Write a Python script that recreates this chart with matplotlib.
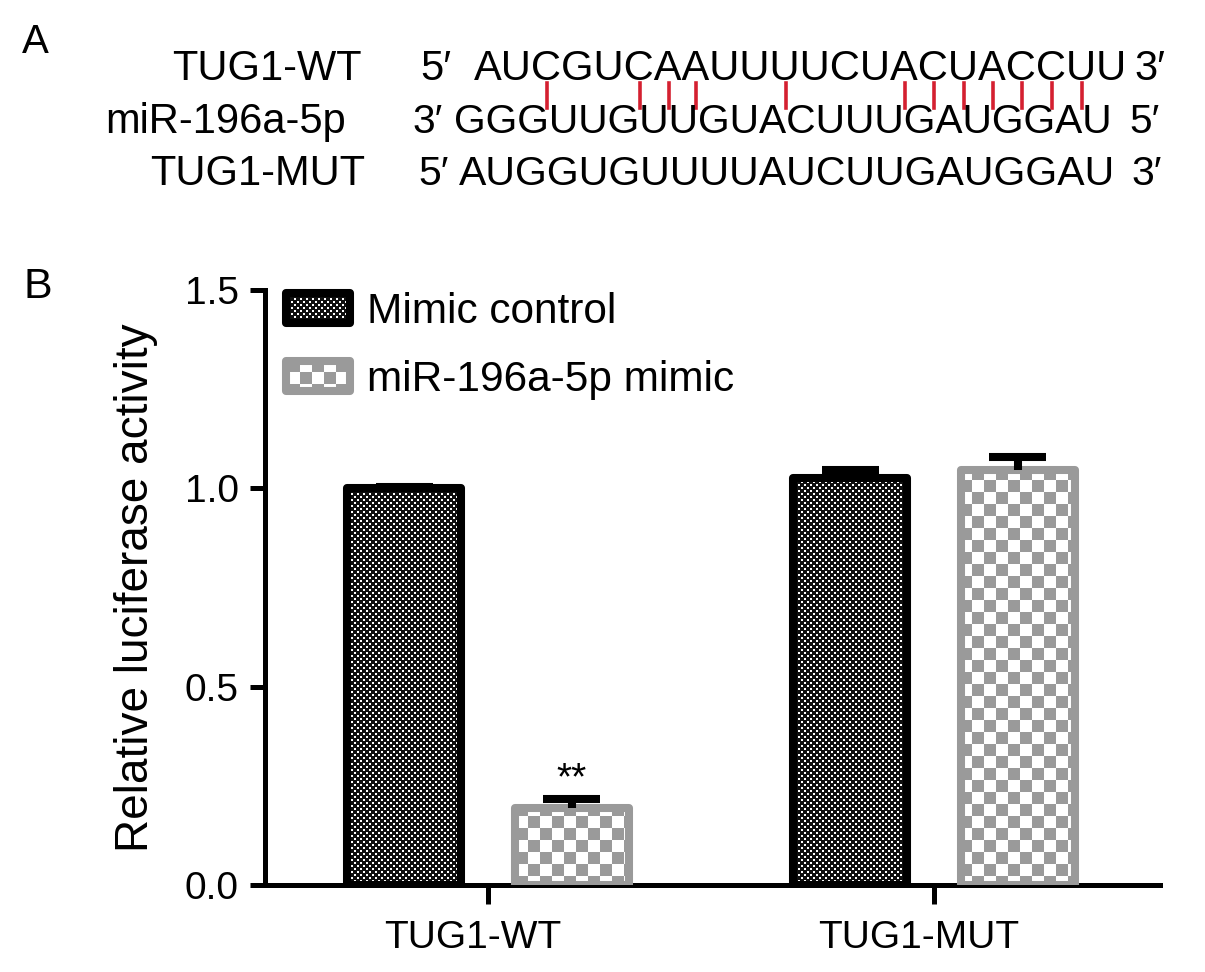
import numpy as np
import matplotlib
matplotlib.use("Agg")
import matplotlib.pyplot as plt
from matplotlib.lines import Line2D
from matplotlib.transforms import ScaledTranslation

plt.rcParams['font.family'] = ['Liberation Sans', 'DejaVu Sans']

# ---------------- data ----------------
groups = ['TUG1-WT', 'TUG1-MUT']
series = ['Mimic control', 'miR-196a-5p mimic']
control_mean = [1.00, 1.025]
control_err = [0.004, 0.02]
mimic_mean = [0.195, 1.045]
mimic_err = [0.022, 0.035]
significance = ['**', '']
yticks = [0.0, 0.5, 1.0, 1.5]
ytick_labels = ['0.0', '0.5', '1.0', '1.5']

row_labels = ['TUG1-WT', 'miR-196a-5p', 'TUG1-MUT']
row_seqs = ['AUCGUCAAUUUUCUACUACCUU',
            'GGGUUGUUGUACUUUGAUGGAU',
            'AUGGUGUUUUAUCUUGAUGGAU']
row_ends = [('5′', '3′'), ('3′', '5′'), ('5′', '3′')]
wc_pairs = {('A', 'U'), ('U', 'A'), ('G', 'C'), ('C', 'G')}

# ---------------- figure ----------------
W, H = 1205, 972
fig = plt.figure(figsize=(W / 100, H / 100), dpi=100)


def fx(px):
    return px / W


def fy(py):
    return 1 - py / H


ax_l, ax_r, ax_t, ax_b = 265, 1160, 290, 885
ax = fig.add_axes([fx(ax_l), fy(ax_b), fx(ax_r - ax_l), (ax_b - ax_t) / H])
ax.set_zorder(2)
ax.patch.set_visible(False)

x = np.arange(len(groups))
off = 0.188
width = 0.256
lw = 5.8
grey = '#9a9a9a'

b1 = ax.bar(x - off, control_mean, width, facecolor='none', edgecolor='black',
            linewidth=lw, zorder=3, label=series[0])
b2 = ax.bar(x + off, mimic_mean, width, facecolor='none', edgecolor=grey,
            linewidth=lw, zorder=3, label=series[1])
for p in list(b1.patches) + list(b2.patches):
    p.set_joinstyle('round')

cap = 0.064
for xs, m, e in [(x - off, control_mean, control_err), (x + off, mimic_mean, mimic_err)]:
    m = np.asarray(m)
    e = np.asarray(e)
    ax.vlines(xs, m, m + e, colors='black', linewidth=lw, zorder=4)
    ax.hlines(m + e, xs - cap, xs + cap, colors='black', linewidth=lw, zorder=4)

for xi, m, e, s in zip(x + off, mimic_mean, mimic_err, significance):
    if s:
        ax.text(xi, m + e + 0.004, s, ha='center', va='bottom', fontsize=28)

ax.set_xlim(-0.5, 1.507)
ax.set_ylim(0, 1.5)
ax.set_yticks(yticks)
ax.set_yticklabels(ytick_labels)
ax.set_xticks(x)
ax.set_xticklabels(groups)
for s in ['top', 'right']:
    ax.spines[s].set_visible(False)
for s in ['left', 'bottom']:
    ax.spines[s].set_linewidth(3.6)
ax.tick_params(axis='y', length=11, width=3.6, pad=8, labelsize=28)
ax.tick_params(axis='x', length=14, width=3.6, pad=11.5, labelsize=28)
shift = ScaledTranslation(-15 / 100, 0, fig.dpi_scale_trans)
for lab in ax.get_xticklabels():
    lab.set_transform(lab.get_transform() + shift)
ax.set_ylabel('Relative luciferase activity', fontsize=33)
ax.yaxis.set_label_coords((158 - ax_l) / (ax_r - ax_l), 0.5)

leg = ax.legend(loc='upper left', bbox_to_anchor=((286 - ax_l) / (ax_r - ax_l), (ax_b - 292) / (ax_b - ax_t)),
                frameon=False, fontsize=30.5, handlelength=1.5, handleheight=0.7,
                handletextpad=0.42, labelspacing=0.66, borderpad=0, borderaxespad=0)
for h in leg.legend_handles:
    h.set_joinstyle('round')

# ---------------- panel A ----------------
fs_a = 30
seq_sizes = [30, 29.3, 29.5]
fig.text(fx(22), fy(53), 'A', fontsize=29, va='baseline', ha='left')
fig.text(fx(23), fy(298), 'B', fontsize=31, va='baseline', ha='left')

label_right = [362, 346, 365]
end_left = [420, 412, 418]
seq_left = [474, 454, 459]
end_right = [1165, 1160, 1162]
baselines = [80, 133, 185]
seq_texts = []
for lab, lr, el, sl, er, bl, seq, (e1, e2), fs in zip(row_labels, label_right, end_left, seq_left,
                                                      end_right, baselines, row_seqs, row_ends, seq_sizes):
    fig.text(fx(lr), fy(bl), lab, fontsize=fs_a, ha='right', va='baseline')
    fig.text(fx(el), fy(bl), e1, fontsize=fs, ha='left', va='baseline')
    fig.text(fx(er), fy(bl), e2, fontsize=fs, ha='right', va='baseline')
    t = fig.text(fx(sl), fy(bl), seq, fontsize=fs, ha='left', va='baseline')
    seq_texts.append(t)

fig.canvas.draw()
renderer = fig.canvas.get_renderer()


def text_width(s, fs):
    tmp = fig.text(0, 0, s, fontsize=fs)
    w = tmp.get_window_extent(renderer).width
    tmp.remove()
    return w


# letter centres of the top (TUG1-WT) row, pairing lines at Watson-Crick pairs
top_seq = row_seqs[0]
mir_seq = row_seqs[1]
fs0 = seq_sizes[0]
x0 = seq_texts[0].get_window_extent(renderer).x0
for i, (a, b) in enumerate(zip(top_seq, mir_seq)):
    if (a, b) in wc_pairs:
        cx = x0 + text_width(top_seq[:i + 1], fs0) - text_width(top_seq[i], fs0) / 2
        fig.add_artist(Line2D([fx(cx), fx(cx)], [fy(83), fy(108)], color='#d42030',
                              linewidth=2.6, transform=fig.transFigure))

# ---------------- checker fills ----------------
yy, xx = np.mgrid[0:H, 0:W]
dots = (((xx % 6) // 3 == (yy % 6) // 3) & (xx % 3 < 2) & (yy % 3 < 2))
black_pat = np.full((H, W, 3), 15, dtype=np.uint8)
black_pat[dots] = 255
chk = ((xx // 12 + yy // 12) % 2 == 0)
grey_pat = np.full((H, W, 3), 255, dtype=np.uint8)
grey_pat[chk] = 154

fig.canvas.draw()
targets = [(p, black_pat) for p in b1.patches] + [(p, grey_pat) for p in b2.patches]
targets += [(leg.legend_handles[0], black_pat), (leg.legend_handles[1], grey_pat)]
for patch, pat in targets:
    im = fig.figimage(pat, xo=0, yo=0, zorder=1, origin='lower')
    im.set_clip_path(patch)

fig.canvas.draw()
fig.savefig('out.png', dpi=100, facecolor='white')
